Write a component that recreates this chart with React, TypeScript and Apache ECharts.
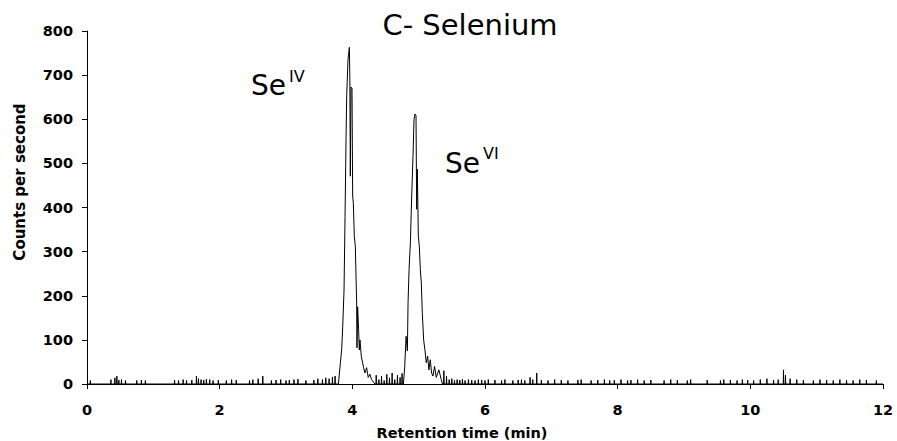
import React, { useEffect, useRef } from "react";
import * as echarts from "echarts";

// ---- data ----
const titleText = "C- Selenium";
const xAxisTitle = "Retention time (min)";
const yAxisTitle = "Counts per second";
const xTicks = [0, 2, 4, 6, 8, 10, 12];
const yTicks = [0, 100, 200, 300, 400, 500, 600, 700, 800];

// Se(IV) peak
const seIVTimes = [3.79, 3.82, 3.84, 3.855, 3.875, 3.89, 3.905, 3.915, 3.935, 3.955, 3.962, 3.97, 3.98, 3.995, 4.005, 4.015, 4.03, 4.045, 4.065, 4.07, 4.08, 4.095, 4.105, 4.115, 4.135, 4.155, 4.17, 4.19, 4.215, 4.24, 4.265, 4.29, 4.34];
const seIVCounts = [0, 48, 80, 130, 213, 380, 555, 653, 736, 763, 700, 471, 673, 670, 426, 410, 335, 312, 184, 82, 175, 123, 77, 100, 63, 48, 37, 25, 37, 15, 22, 10, 0];

// Se(VI) peak
const seVITimes = [4.77, 4.79, 4.81, 4.83, 4.84, 4.855, 4.875, 4.895, 4.915, 4.93, 4.945, 4.96, 4.97, 4.98, 4.995, 5.01, 5.025, 5.04, 5.055, 5.075, 5.095, 5.115, 5.135, 5.155, 5.175, 5.195, 5.215, 5.24, 5.265, 5.305, 5.34, 5.36];
const seVICounts = [0, 40, 108, 75, 184, 259, 320, 426, 517, 600, 612, 608, 396, 487, 335, 312, 259, 229, 160, 100, 77, 48, 63, 32, 55, 25, 18, 40, 15, 32, 10, 0];

// baseline noise spikes
const noiseTimes = [
  0.05, 0.36, 0.42, 0.45, 0.48, 0.52, 0.58, 0.75, 0.82, 0.88, 1.32, 1.38, 1.45, 1.5, 1.58, 1.65, 1.68,
  1.72, 1.76, 1.8, 1.85, 1.9, 1.98, 2.1, 2.18, 2.25, 2.45, 2.5, 2.58, 2.65, 2.78, 2.85, 2.92, 3.0, 3.05,
  3.12, 3.18, 3.3, 3.42, 3.48, 3.55, 3.6, 3.65, 3.7, 3.74,
  4.36, 4.4, 4.44, 4.48, 4.52, 4.56, 4.6, 4.64, 4.68, 4.72, 4.75,
  5.38, 5.42, 5.46, 5.5, 5.54, 5.58, 5.62, 5.66, 5.7, 5.75, 5.8, 5.85, 5.9, 5.95, 6.0, 6.05, 6.15, 6.25,
  6.3, 6.42, 6.5, 6.55, 6.6, 6.68, 6.72, 6.78, 6.85, 6.95, 7.05, 7.15, 7.25, 7.4, 7.45, 7.6, 7.7, 7.8,
  7.88, 7.95, 8.05, 8.15, 8.2, 8.3, 8.4, 8.5, 8.7, 8.8, 8.9, 9.05, 9.1, 9.35, 9.55, 9.6, 9.7, 9.8, 9.88,
  9.96, 10.05, 10.15, 10.25, 10.35, 10.42, 10.5, 10.53, 10.6, 10.7, 10.8, 10.95, 11.05, 11.15, 11.25,
  11.35, 11.45, 11.55, 11.65, 11.75, 11.9,
];
const noiseCounts = [
  8, 10, 14, 18, 9, 10, 8, 8, 9, 8, 9, 8, 10, 8, 9, 18, 12,
  10, 9, 11, 10, 8, 9, 8, 10, 9, 8, 10, 12, 18, 8, 9, 10, 8, 9,
  10, 11, 8, 9, 12, 10, 14, 12, 16, 18,
  20, 10, 18, 8, 22, 14, 25, 10, 20, 15, 24,
  30, 18, 10, 12, 8, 10, 9, 11, 8, 10, 9, 8, 10, 9, 8, 10, 9, 8,
  10, 8, 9, 10, 8, 15, 10, 25, 9, 8, 10, 9, 8, 9, 10, 8, 9, 10,
  8, 9, 10, 8, 9, 10, 8, 9, 8, 10, 9, 8, 10, 9, 8, 10, 9, 8, 10,
  9, 8, 10, 12, 9, 10, 32, 20, 12, 10, 9, 8, 10, 9, 8,
  10, 9, 8, 10, 9, 8,
];

function buildSeries(): number[][] {
  const pts: number[][] = [[0, 0], [12, 0]];
  noiseTimes.forEach((t, i) => {
    pts.push([t - 0.004, 0], [t, noiseCounts[i]], [t + 0.004, 0]);
  });
  seIVTimes.forEach((t, i) => pts.push([t, seIVCounts[i]]));
  seVITimes.forEach((t, i) => pts.push([t, seVICounts[i]]));
  pts.sort((a, b) => a[0] - b[0]);
  return pts;
}

const FONT = "'DejaVu Sans', Verdana, sans-serif";

export default function App() {
  const ref = useRef<HTMLDivElement>(null);
  useEffect(() => {
    if (!ref.current) return;
    const chart = echarts.init(ref.current, undefined, { renderer: "svg" });
    chart.setOption({
      animation: false,
      backgroundColor: "#ffffff",
      grid: { left: 87, right: 14, top: 31, bottom: 57, containLabel: false },
      xAxis: {
        type: "value",
        min: xTicks[0],
        max: xTicks[xTicks.length - 1],
        interval: 2,
        axisLine: { show: true, lineStyle: { color: "#000", width: 1 } },
        axisTick: { show: true, inside: false, length: 5, lineStyle: { color: "#000" } },
        axisLabel: { color: "#000", fontFamily: FONT, fontWeight: "bold", fontSize: 14.5, margin: 18 },
        splitLine: { show: false },
      },
      yAxis: {
        type: "value",
        min: yTicks[0],
        max: yTicks[yTicks.length - 1],
        interval: 100,
        axisLine: { show: true, lineStyle: { color: "#000", width: 1 } },
        axisTick: { show: true, inside: false, length: 5, lineStyle: { color: "#000" } },
        axisLabel: { color: "#000", fontFamily: FONT, fontWeight: "bold", fontSize: 14.5, margin: 14 },
        splitLine: { show: false },
      },
      series: [
        {
          type: "line",
          data: buildSeries(),
          showSymbol: false,
          symbol: "none",
          lineStyle: { color: "#000", width: 1 },
          z: 3,
        },
      ],
      graphic: [
        {
          type: "text",
          x: 470,
          y: 25,
          style: { text: titleText, font: `29px ${FONT}`, fill: "#000", textAlign: "center", textVerticalAlign: "middle" },
        },
        {
          type: "text",
          x: 20,
          y: 182,
          rotation: Math.PI / 2,
          style: { text: yAxisTitle, font: `bold 15px ${FONT}`, fill: "#000", textAlign: "center", textVerticalAlign: "middle" },
        },
        {
          type: "text",
          x: 462,
          y: 433,
          style: { text: xAxisTitle, font: `bold 14.5px ${FONT}`, fill: "#000", textAlign: "center", textVerticalAlign: "middle" },
        },
        {
          type: "text",
          x: 251,
          y: 85,
          style: { text: "Se", font: `28px ${FONT}`, fill: "#000", textAlign: "left", textVerticalAlign: "middle" },
        },
        {
          type: "text",
          x: 289,
          y: 76,
          style: { text: "IV", font: `16px ${FONT}`, fill: "#000", textAlign: "left", textVerticalAlign: "middle" },
        },
        {
          type: "text",
          x: 445,
          y: 163,
          style: { text: "Se", font: `28px ${FONT}`, fill: "#000", textAlign: "left", textVerticalAlign: "middle" },
        },
        {
          type: "text",
          x: 483,
          y: 153,
          style: { text: "VI", font: `16px ${FONT}`, fill: "#000", textAlign: "left", textVerticalAlign: "middle" },
        },
      ],
    });
    return () => chart.dispose();
  }, []);
  return <div ref={ref} style={{ width: 897, height: 441, position: "absolute", left: 0, top: 0 }} />;
}
